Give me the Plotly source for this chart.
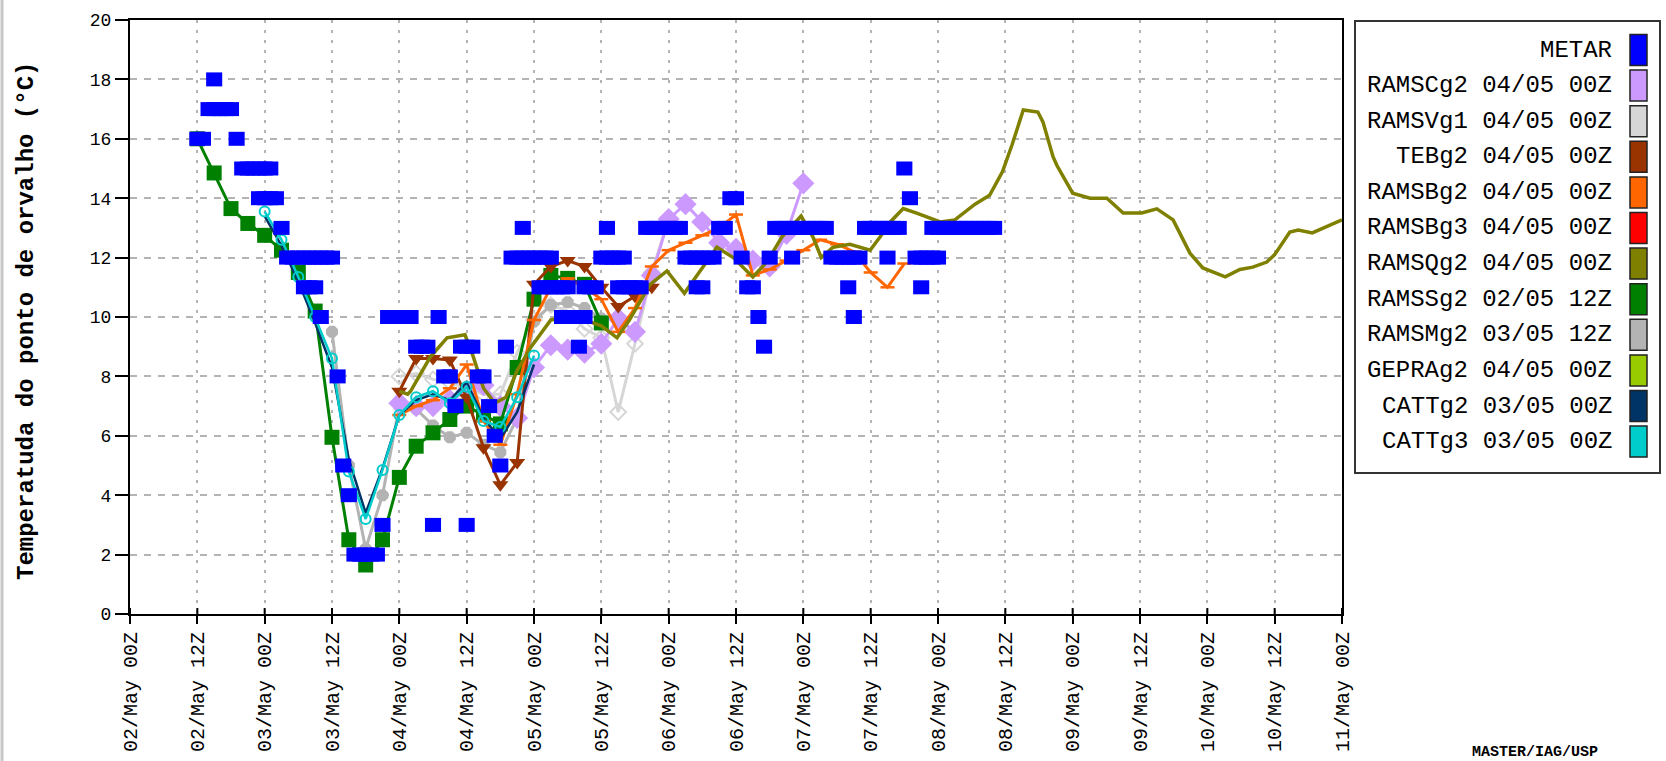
import plotly.graph_objects as go

# ---------------- data (hours since 02/May 00Z) ----------------
tick_hours = [0, 12, 24, 36, 48, 60, 72, 84, 96, 108, 120, 132, 144, 156, 168, 180, 192, 204, 216]
tick_labels = ["02/May 00Z", "02/May 12Z", "03/May 00Z", "03/May 12Z", "04/May 00Z",
               "04/May 12Z", "05/May 00Z", "05/May 12Z", "06/May 00Z", "06/May 12Z",
               "07/May 00Z", "07/May 12Z", "08/May 00Z", "08/May 12Z", "09/May 00Z",
               "09/May 12Z", "10/May 00Z", "10/May 12Z", "11/May 00Z"]
y_ticks = [0, 2, 4, 6, 8, 10, 12, 14, 16, 18, 20]

metar_hours = [12, 13, 14, 15, 16, 17, 18, 15, 19, 20, 21, 22, 23, 24, 25, 23, 24, 25, 26, 27,
               28, 29, 30, 31, 32, 33, 34, 35, 36, 31, 32, 33, 34, 37, 38, 39, 40, 41, 42, 43, 44,
               45, 46, 47, 48, 49, 50, 51, 52, 53, 54, 55, 56, 57, 58, 59, 60, 61, 60, 62, 63,
               64, 65, 66, 67, 68, 69, 70, 71, 72, 73, 74, 75, 70, 73, 74, 75, 76, 77, 78,
               77, 78, 79, 80, 81, 80, 81, 82, 83, 84, 85, 86, 87, 88, 85, 87, 88, 89, 90, 91,
               92, 93, 94, 95, 96, 97, 98, 99, 100, 101, 102, 103, 104, 101, 102, 105, 106,
               107, 108, 109, 110, 111, 112, 113, 114, 115, 116, 117, 118, 119, 120, 121, 122,
               123, 124, 118, 125, 126, 127, 128, 129, 130, 128, 129, 131, 132, 133, 134, 135,
               136, 137, 135, 138, 139, 140, 141, 142, 143, 144, 141, 143, 144, 145, 146, 147,
               148, 149, 150, 151, 152, 153, 154]
metar_dewpt = [16, 16, 17, 17, 17, 17, 17, 18, 16, 15, 15, 15, 15, 15, 15, 14, 14, 14, 14, 13,
               12, 12, 12, 12, 12, 12, 12, 12, 12, 11, 11, 11, 10, 8, 5, 4, 2, 2, 2, 2, 2,
               3, 10, 10, 10, 10, 10, 9, 9, 9, 3, 10, 8, 8, 7, 9, 9, 9, 3, 8, 8,
               7, 6, 5, 9, 12, 12, 12, 12, 12, 12, 12, 12, 13, 11, 11, 11, 11, 11, 11,
               10, 10, 10, 10, 10, 9, 11, 11, 11, 12, 12, 12, 12, 12, 13, 11, 11, 11, 11, 11,
               13, 13, 13, 13, 13, 13, 13, 12, 12, 12, 12, 12, 12, 11, 11, 13, 13,
               14, 14, 12, 11, 11, 10, 9, 12, 13, 13, 13, 13, 13, 13, 13, 13,
               13, 13, 12, 12, 12, 12, 12, 12, 12, 11, 10, 13, 13, 13, 13, 13,
               13, 13, 12, 15, 14, 12, 12, 12, 12, 12, 11, 13, 13, 13, 13, 13,
               13, 13, 13, 13, 13, 13, 13]

ramsc_hours = [48, 51, 54, 57, 60, 63, 66, 69, 72, 75, 78, 81, 84, 87, 90, 93, 96, 99, 102, 105,
               108, 111, 114, 117, 120]
ramsc_vals = [7.1, 7.0, 7.0, 7.2, 7.5, 7.7, 7.0, 6.6, 8.3, 9.05, 8.9, 8.8, 9.1, 9.95, 9.5, 11.4,
              13.3, 13.8, 13.2, 12.5, 12.3, 11.9, 11.7, 12.8, 14.5]

ramsv_hours = [48, 51, 54, 57, 60, 63, 66, 69, 72, 75, 78, 81, 84, 87, 90, 93, 96]
ramsv_vals = [8.0, 8.1, 7.9, 7.8, 7.6, 7.4, 7.4, 8.8, 9.9, 10.4, 10.2, 9.6, 9.3, 6.8, 9.1, 11.5, 13.3]

teb_hours = [48, 51, 54, 57, 60, 63, 66, 69, 72, 75, 78, 81, 84, 87, 90, 93]
teb_vals = [7.5, 8.6, 8.6, 8.55, 7.3, 5.6, 4.35, 5.1, 11.1, 11.7, 11.9, 11.7, 11.0, 10.35, 10.7, 11.0]

ramsb_hours = [48, 51, 54, 57, 60, 63, 66, 69, 72, 75, 78, 81, 84, 87, 90, 93, 96, 99, 102, 105,
               108, 111, 114, 117, 120, 123, 126, 129, 132, 135, 138]
ramsb_vals = [6.7, 7.0, 7.2, 7.6, 8.4, 6.5, 5.7, 7.4, 9.9, 11.0, 11.3, 11.0, 10.6, 9.5, 10.3, 11.7,
              12.25, 12.5, 12.75, 13.0, 13.45, 11.4, 11.6, 11.9, 12.25, 12.6, 12.45, 12.2, 11.5,
              11.0, 11.8]

ramsq_hours = [48, 49.5, 50, 53.5, 56.5, 59.7, 61.2, 63, 65, 67, 69, 71.5, 75, 78, 81, 84, 86.8,
               89, 92.7, 95.7, 98.8, 102.5, 104.6, 107.5, 111, 113.5, 116.2, 119.6, 121.7, 123.2,
               125.3, 128.3, 131.9, 133.7, 135.5, 137.8, 140.2, 144.4, 147, 150.6, 153.2, 155.5,
               157.2, 159.2, 161.8, 162.7, 164.5, 165.2, 168, 171.1, 174.1, 177, 180.3, 183,
               185.9, 188.9, 191.2, 195.2, 197.8, 200.1, 202.6, 204, 206.7, 208.2, 210.7, 216]
ramsq_vals = [7.5, 7.4, 7.5, 8.65, 9.3, 9.4, 8.65, 7.6, 7.1, 7.3, 8.2, 9.0, 9.9, 10.0, 9.9, 9.7,
              9.3, 9.9, 11.1, 11.55, 10.8, 11.8, 12.35, 12.0, 11.35, 11.85, 12.7, 13.4, 12.7,
              12.0, 12.35, 12.45, 12.25, 12.7, 13.2, 13.65, 13.5, 13.2, 13.27, 13.8, 14.1, 14.9,
              15.8, 16.97, 16.9, 16.57, 15.4, 15.1, 14.17, 14.0, 14.0, 13.5, 13.5, 13.64, 13.27,
              12.15, 11.65, 11.35, 11.6, 11.68, 11.85, 12.1, 12.86, 12.93, 12.83, 13.27]

ramss_hours = [12, 15, 18, 21, 24, 27, 30, 33, 36, 39, 42, 45, 48, 51, 54, 57, 60, 63, 66, 69,
               72, 75, 78, 81, 84]
ramss_vals = [16.0, 14.85, 13.65, 13.15, 12.75, 12.25, 11.5, 10.2, 5.95, 2.5, 1.65, 2.5, 4.6, 5.65,
              6.1, 6.55, 7.0, 6.7, 6.4, 8.3, 10.6, 11.4, 11.3, 11.1, 9.8]

ramsm_hours = [36, 39, 42, 45, 48, 51, 54, 57, 60, 63, 66, 69, 72, 75, 78, 81, 84]
ramsm_vals = [9.5, 5.0, 2.2, 4.0, 7.0, 6.9, 6.35, 5.95, 6.1, 5.7, 5.45, 6.6, 9.85, 10.4, 10.5, 10.3, 9.95]

catt2_hours = [24, 27, 30, 33, 36, 39, 42, 45, 48, 51, 54, 57, 60, 63, 66, 69, 72]
catt2_vals = [13.4, 12.4, 11.2, 9.8, 8.3, 5.2, 3.4, 4.9, 6.7, 7.2, 7.4, 7.2, 7.8, 6.6, 5.9, 6.8, 8.4]

catt3_hours = [24, 27, 30, 33, 36, 39, 42, 45, 48, 51, 54, 57, 60, 63, 66, 69, 72]
catt3_vals = [13.55, 12.6, 11.35, 10.0, 8.6, 4.8, 3.2, 4.85, 6.7, 7.3, 7.5, 7.1, 7.65, 6.5, 6.3, 7.3, 8.7]

legend_names = ["METAR", "RAMSCg2 04/05 00Z", "RAMSVg1 04/05 00Z", "TEBg2 04/05 00Z",
                "RAMSBg2 04/05 00Z", "RAMSBg3 04/05 00Z", "RAMSQg2 04/05 00Z",
                "RAMSSg2 02/05 12Z", "RAMSMg2 03/05 12Z", "GEPRAg2 04/05 00Z",
                "CATTg2 03/05 00Z", "CATTg3 03/05 00Z"]
legend_colors = ["#0000ff", "#cc99ff", "#d6d6d6", "#993300", "#ff6600", "#ff0000", "#808000",
                 "#008000", "#b3b3b3", "#99cc00", "#003366", "#00cccc"]
col = dict(zip(legend_names, legend_colors))

y_title = "Temperatuda do ponto de orvalho (°C)"
footer = "MASTER/IAG/USP"

# ---------------- figure ----------------
W, H = 1666, 761
L, R, T, B = 130, 1342, 20, 614


def px(x):
    return (x - L) / (R - L)


def py(y):
    return (B - y) / (B - T)


fig = go.Figure()

fig.add_trace(go.Scatter(x=ramsv_hours, y=ramsv_vals, mode="lines+markers",
                         line=dict(color=col["RAMSVg1 04/05 00Z"], width=3),
                         marker=dict(symbol="diamond-open", size=12,
                                     line=dict(width=2, color=col["RAMSVg1 04/05 00Z"]))))
fig.add_trace(go.Scatter(x=ramsm_hours, y=ramsm_vals, mode="lines+markers",
                         line=dict(color=col["RAMSMg2 03/05 12Z"], width=3),
                         marker=dict(symbol="octagon", size=13, color=col["RAMSMg2 03/05 12Z"])))
fig.add_trace(go.Scatter(x=ramsc_hours, y=ramsc_vals, mode="lines+markers",
                         line=dict(color=col["RAMSCg2 04/05 00Z"], width=3),
                         marker=dict(symbol="diamond", size=17, color=col["RAMSCg2 04/05 00Z"])))
fig.add_trace(go.Scatter(x=ramss_hours, y=ramss_vals, mode="lines+markers",
                         line=dict(color=col["RAMSSg2 02/05 12Z"], width=3),
                         marker=dict(symbol="square", size=15, color=col["RAMSSg2 02/05 12Z"])))
fig.add_trace(go.Scatter(x=teb_hours, y=teb_vals, mode="lines+markers",
                         line=dict(color=col["TEBg2 04/05 00Z"], width=3),
                         marker=dict(symbol="triangle-down", size=14, color=col["TEBg2 04/05 00Z"])))
fig.add_trace(go.Scatter(x=ramsb_hours, y=ramsb_vals, mode="lines+markers",
                         line=dict(color=col["RAMSBg2 04/05 00Z"], width=3),
                         marker=dict(symbol="line-ew", size=10,
                                     line=dict(width=2.5, color=col["RAMSBg2 04/05 00Z"]))))
fig.add_trace(go.Scatter(x=ramsq_hours, y=ramsq_vals, mode="lines",
                         line=dict(color=col["RAMSQg2 04/05 00Z"], width=3.5)))
fig.add_trace(go.Scatter(x=catt2_hours, y=catt2_vals, mode="lines",
                         line=dict(color=col["CATTg2 03/05 00Z"], width=2.5)))
fig.add_trace(go.Scatter(x=catt3_hours, y=catt3_vals, mode="lines+markers",
                         line=dict(color=col["CATTg3 03/05 00Z"], width=2.5),
                         marker=dict(symbol="circle-open", size=10,
                                     line=dict(width=2, color=col["CATTg3 03/05 00Z"]))))
fig.add_trace(go.Scatter(x=metar_hours, y=metar_dewpt, mode="markers",
                         marker=dict(symbol="line-ew", size=11.5,
                                     line=dict(width=14, color=col["METAR"]))))

MONO = "Liberation Mono"
shapes = []
annotations = []

# inner half of the x-axis ticks (ticks cross the axis line)
for h in tick_hours:
    shapes.append(dict(type="line", xref="x", yref="paper", x0=h, x1=h, y0=0, y1=6 / (B - T),
                       line=dict(color="black", width=2)))

# legend box
shapes.append(dict(type="rect", xref="paper", yref="paper", x0=px(1355), x1=px(1660),
                   y0=py(473), y1=py(21), line=dict(color="#333333", width=2)))
for i, (name, c) in enumerate(zip(legend_names, legend_colors)):
    yc = 50 + i * 35.6
    annotations.append(dict(xref="paper", yref="paper", x=px(1614), y=py(yc), text=name,
                            showarrow=False, xanchor="right", yanchor="middle",
                            font=dict(family=MONO, size=24, color="#000000")))
    shapes.append(dict(type="rect", xref="paper", yref="paper", x0=px(1630), x1=px(1647),
                       y0=py(yc + 15.5), y1=py(yc - 15.5), fillcolor=c,
                       line=dict(color="#222222", width=1.5)))

# y-axis title
annotations.append(dict(xref="paper", yref="paper", x=px(26), y=py(321), text=y_title,
                        textangle=-90, showarrow=False, xanchor="center", yanchor="middle",
                        font=dict(family=MONO, size=24, color="#000000", weight="bold")))
# footer at the bottom-right corner
annotations.append(dict(xref="paper", yref="paper", x=px(1470), y=py(742), text=footer,
                        showarrow=False, xanchor="left", yanchor="top",
                        font=dict(family=MONO, size=15, color="#000000", weight="bold")))
# left border strip
shapes.append(dict(type="line", xref="paper", yref="paper", x0=px(2), x1=px(2),
                   y0=py(0), y1=py(H), line=dict(color="#c8c8c8", width=3)))

fig.update_layout(
    width=W, height=H,
    margin=dict(l=L, r=W - R, t=T, b=H - B, autoexpand=False),
    paper_bgcolor="white", plot_bgcolor="white",
    showlegend=False,
    shapes=shapes, annotations=annotations,
    xaxis=dict(range=[0, 216], tickmode="array", tickvals=tick_hours,
               ticktext=tick_labels,
               tickangle=-90, ticks="outside", ticklen=8, tickwidth=2, tickcolor="black",
               showline=True, linecolor="black", linewidth=2, mirror=True,
               showgrid=True, gridcolor="#b4b4b4", gridwidth=2, griddash="3px,7px",
               zeroline=False, tickfont=dict(family=MONO, size=20, color="black")),
    yaxis=dict(range=[0, 20], tickmode="array", tickvals=y_ticks,
               ticks="outside", ticklen=13, tickwidth=2, tickcolor="black",
               showline=True, linecolor="black", linewidth=2, mirror=True,
               showgrid=True, gridcolor="#b4b4b4", gridwidth=2, griddash="7px,7px",
               zeroline=False, tickfont=dict(family=MONO, size=18, color="black")),
)

fig.write_html("out.html", config={"displayModeBar": False})
with open("out.html", "r", encoding="utf-8") as f:
    html = f.read()
html = html.replace("<head>", "<head><style>html,body{margin:0;padding:0;overflow:hidden;}</style>", 1)
with open("out.html", "w", encoding="utf-8") as f:
    f.write(html)
